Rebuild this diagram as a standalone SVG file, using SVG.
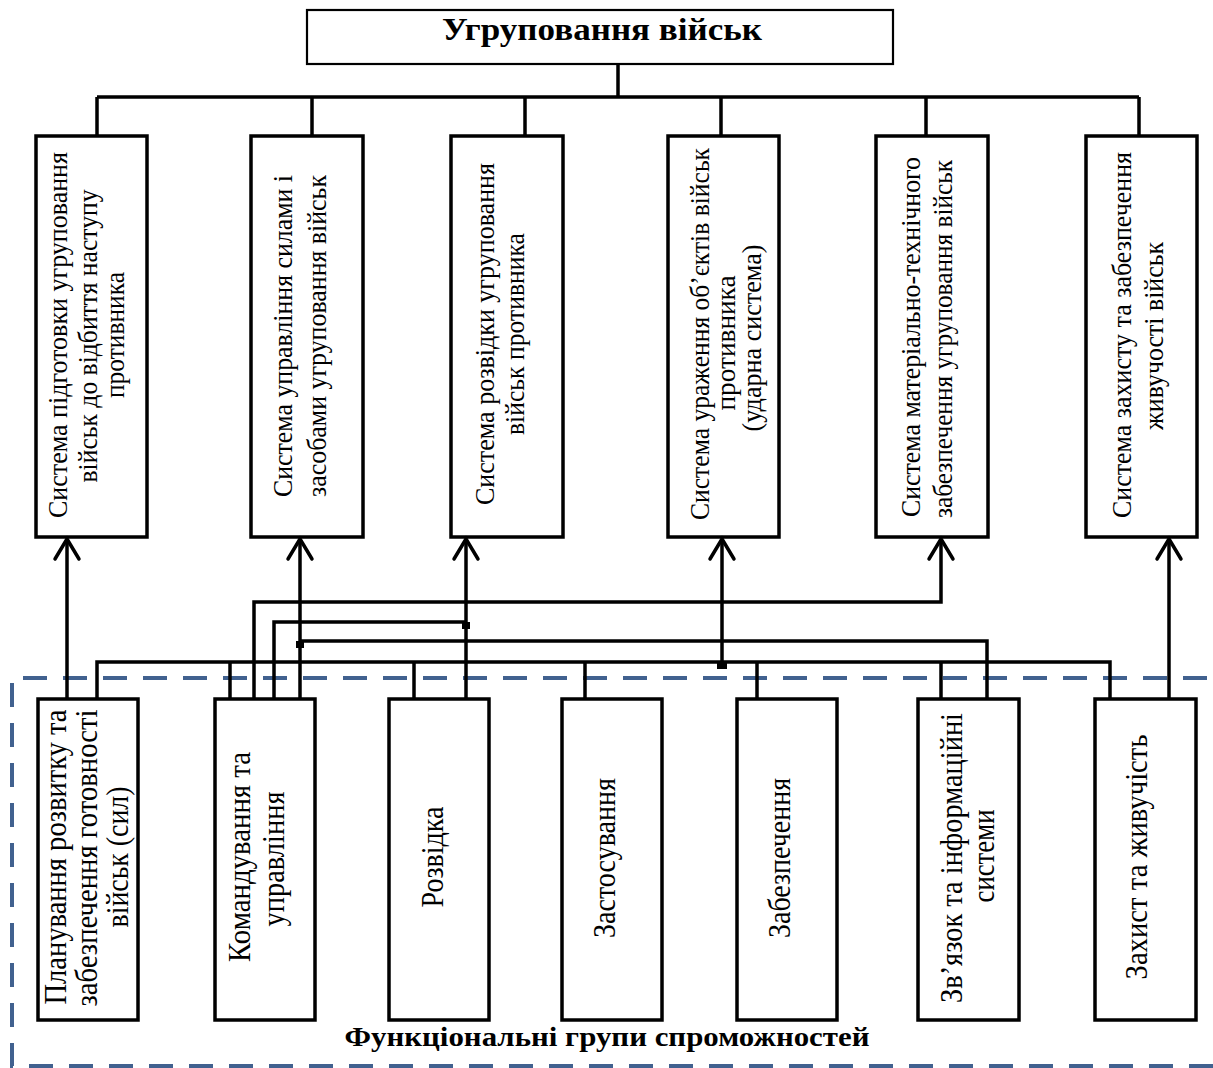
<svg xmlns="http://www.w3.org/2000/svg" width="1213" height="1068" viewBox="0 0 1213 1068">
<style>
.bg{fill:#fff}
.box{fill:#fff;stroke:#000;stroke-width:3.5}
.title{fill:#fff;stroke:#000;stroke-width:2.2}
.conn{fill:none;stroke:#000;stroke-width:3.5;stroke-linejoin:miter}
.dash{fill:none;stroke:#41618f;stroke-width:4;stroke-dasharray:24 16}
.t{font-family:"Liberation Serif","Times New Roman",serif;fill:#000}
.vt{font-size:28px}
.lt{font-size:31px}
.b{font-weight:bold}
</style>
<defs>
<marker id="arr" markerUnits="userSpaceOnUse" markerWidth="30" markerHeight="30" viewBox="-24 -15 28 30" refX="0" refY="0" orient="auto">
<path d="M-20,-12 L0,0 L-20,12" fill="none" stroke="#000" stroke-width="3.5" stroke-linecap="round" stroke-linejoin="miter"/>
</marker>
</defs>
<rect class="bg" x="0" y="0" width="1213" height="1068"/>

<path class="dash" d="M1213,1066 H12 V678 H1213"/>

<g id="root">
<rect class="title" x="307" y="10" width="586" height="54"/>
<text class="t b" x="602" y="40" font-size="31" text-anchor="middle" textLength="320" lengthAdjust="spacingAndGlyphs">Угруповання військ</text>
</g>

<g id="sys1">
<rect class="box" x="36" y="136" width="111" height="401"/>
<text class="t vt" transform="translate(67,335) rotate(-90)" text-anchor="middle" textLength="366" lengthAdjust="spacingAndGlyphs">Система підготовки угруповання</text>
<text class="t vt" transform="translate(97,336) rotate(-90)" text-anchor="middle" textLength="293" lengthAdjust="spacingAndGlyphs">військ до відбиття наступу</text>
<text class="t vt" transform="translate(124,335) rotate(-90)" text-anchor="middle" textLength="126" lengthAdjust="spacingAndGlyphs">противника</text>
</g>
<g id="sys2">
<rect class="box" x="251" y="136" width="112" height="401"/>
<text class="t vt" transform="translate(292,336) rotate(-90)" text-anchor="middle" textLength="322" lengthAdjust="spacingAndGlyphs">Система управління силами і</text>
<text class="t vt" transform="translate(326,336) rotate(-90)" text-anchor="middle" textLength="322" lengthAdjust="spacingAndGlyphs">засобами угруповання військ</text>
</g>
<g id="sys3">
<rect class="box" x="451" y="136" width="112" height="401"/>
<text class="t vt" transform="translate(494,334) rotate(-90)" text-anchor="middle" textLength="342" lengthAdjust="spacingAndGlyphs">Система розвідки угруповання</text>
<text class="t vt" transform="translate(524,334) rotate(-90)" text-anchor="middle" textLength="202" lengthAdjust="spacingAndGlyphs">військ противника</text>
</g>
<g id="sys4">
<rect class="box" x="668" y="136" width="111" height="401"/>
<text class="t vt" transform="translate(709,334) rotate(-90)" text-anchor="middle" textLength="372" lengthAdjust="spacingAndGlyphs">Система ураження об’єктів військ</text>
<text class="t vt" transform="translate(735,343) rotate(-90)" text-anchor="middle" textLength="135" lengthAdjust="spacingAndGlyphs">противника</text>
<text class="t vt" transform="translate(761,338) rotate(-90)" text-anchor="middle" textLength="187" lengthAdjust="spacingAndGlyphs">(ударна система)</text>
</g>
<g id="sys5">
<rect class="box" x="876" y="136" width="112" height="401"/>
<text class="t vt" transform="translate(920,337) rotate(-90)" text-anchor="middle" textLength="360" lengthAdjust="spacingAndGlyphs">Система матеріально-технічного</text>
<text class="t vt" transform="translate(952,339) rotate(-90)" text-anchor="middle" textLength="358" lengthAdjust="spacingAndGlyphs">забезпечення угруповання військ</text>
</g>
<g id="sys6">
<rect class="box" x="1086" y="136" width="111" height="401"/>
<text class="t vt" transform="translate(1131,335) rotate(-90)" text-anchor="middle" textLength="366" lengthAdjust="spacingAndGlyphs">Система захисту та забезпечення</text>
<text class="t vt" transform="translate(1163,336) rotate(-90)" text-anchor="middle" textLength="188" lengthAdjust="spacingAndGlyphs">живучості військ</text>
</g>

<g id="fg1">
<rect class="box" x="38" y="699" width="100" height="321"/>
<text class="t lt" transform="translate(66,857) rotate(-90)" text-anchor="middle" textLength="295" lengthAdjust="spacingAndGlyphs">Планування розвитку та</text>
<text class="t lt" transform="translate(97,858) rotate(-90)" text-anchor="middle" textLength="297" lengthAdjust="spacingAndGlyphs">забезпечення готовності</text>
<text class="t lt" transform="translate(128,857) rotate(-90)" text-anchor="middle" textLength="141" lengthAdjust="spacingAndGlyphs">військ (сил)</text>
</g>
<g id="fg2">
<rect class="box" x="215" y="699" width="100" height="321"/>
<text class="t lt" transform="translate(250,857) rotate(-90)" text-anchor="middle" textLength="210" lengthAdjust="spacingAndGlyphs">Командування та</text>
<text class="t lt" transform="translate(284,859) rotate(-90)" text-anchor="middle" textLength="135" lengthAdjust="spacingAndGlyphs">управління</text>
</g>
<g id="fg3">
<rect class="box" x="389" y="699" width="100" height="321"/>
<text class="t lt" transform="translate(443,857) rotate(-90)" text-anchor="middle" textLength="101" lengthAdjust="spacingAndGlyphs">Розвідка</text>
</g>
<g id="fg4">
<rect class="box" x="562" y="699" width="100" height="321"/>
<text class="t lt" transform="translate(615,858) rotate(-90)" text-anchor="middle" textLength="160" lengthAdjust="spacingAndGlyphs">Застосування</text>
</g>
<g id="fg5">
<rect class="box" x="737" y="699" width="100" height="321"/>
<text class="t lt" transform="translate(790,858) rotate(-90)" text-anchor="middle" textLength="160" lengthAdjust="spacingAndGlyphs">Забезпечення</text>
</g>
<g id="fg6">
<rect class="box" x="918" y="699" width="101" height="321"/>
<text class="t lt" transform="translate(962,858) rotate(-90)" text-anchor="middle" textLength="290" lengthAdjust="spacingAndGlyphs">Зв’язок та інформаційні</text>
<text class="t lt" transform="translate(994,856) rotate(-90)" text-anchor="middle" textLength="93" lengthAdjust="spacingAndGlyphs">системи</text>
</g>
<g id="fg7">
<rect class="box" x="1095" y="699" width="101" height="321"/>
<text class="t lt" transform="translate(1147,857) rotate(-90)" text-anchor="middle" textLength="245" lengthAdjust="spacingAndGlyphs">Захист та живучість</text>
</g>

<g id="connectors">
<path class="conn" d="M618,64 V97 M97,97 H1139 M97,97 V135 M312,97 V135 M525,97 V135 M721,97 V135 M926,97 V135 M1139,97 V135"/>
<path class="conn" d="M67,698 V539" marker-end="url(#arr)"/>
<path class="conn" d="M300,698 V539" marker-end="url(#arr)"/>
<path class="conn" d="M466,698 V539" marker-end="url(#arr)"/>
<path class="conn" d="M722,662 V539" marker-end="url(#arr)"/>
<path class="conn" d="M254,698 V602 H941 V539" marker-end="url(#arr)"/>
<path class="conn" d="M1169,698 V539" marker-end="url(#arr)"/>
<path class="conn" d="M274,698 V622 H466"/>
<path class="conn" d="M300,641 H987 V698"/>
<path class="conn" d="M97,698 V662 H1110 V698 M230,662 V698 M414,662 V698 M585,662 V698 M757,662 V698 M941,662 V698"/>
<rect x="462" y="622" width="8" height="7" fill="#000"/>
<rect x="296" y="641" width="8" height="7" fill="#000"/>
<rect x="717" y="662" width="10" height="7" fill="#000"/>
</g>

<text class="t b" x="607" y="1046" font-size="28" text-anchor="middle" textLength="525" lengthAdjust="spacingAndGlyphs">Функціональні групи спроможностей</text>
</svg>
